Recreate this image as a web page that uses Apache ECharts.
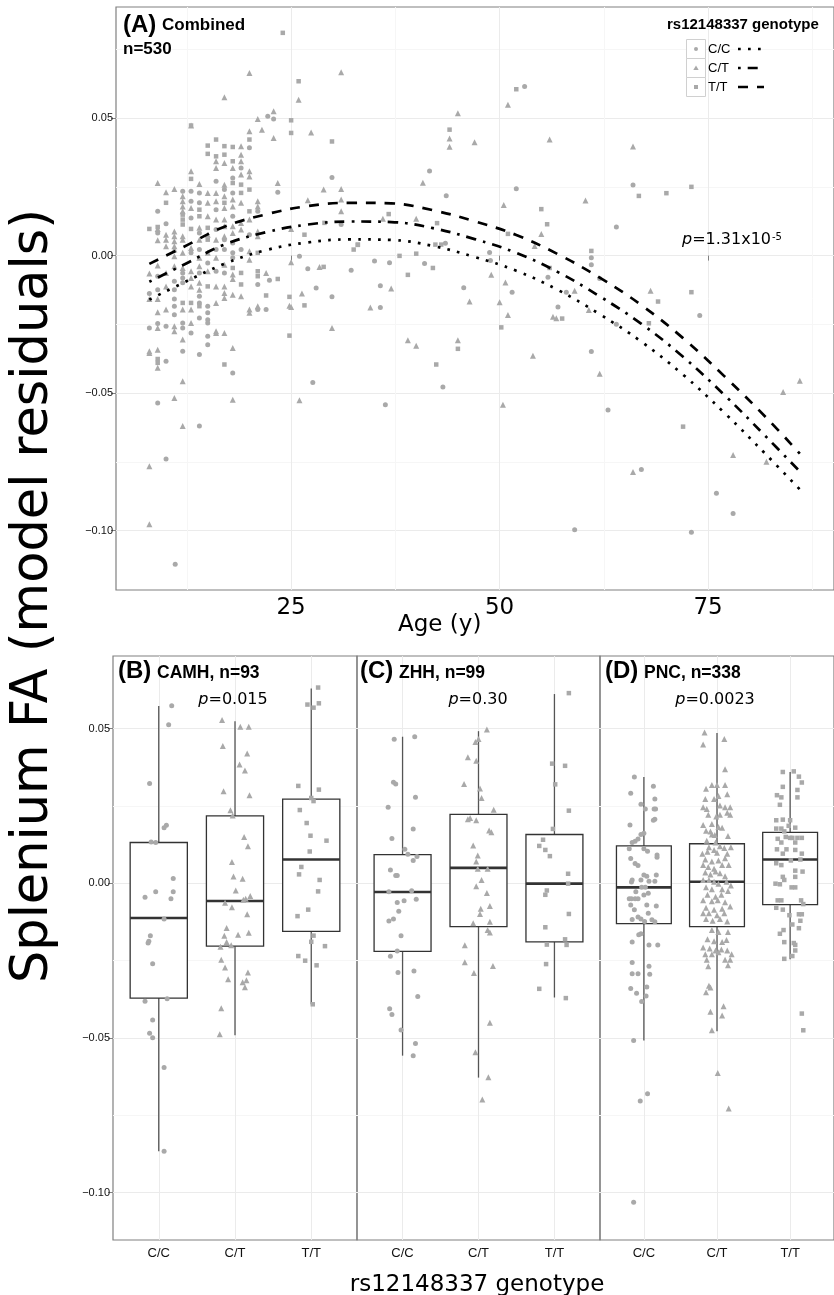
<!DOCTYPE html>
<html>
<head>
<meta charset="UTF-8">
<script src="https://cdn.jsdelivr.net/npm/echarts@6/dist/echarts.min.js"></script>
<style>html,body{margin:0;padding:0;background:#fff}</style>
</head>
<body>
<div id="main" style="width:834px;height:1295px"></div>
<script>
// ---- panel A: age vs residual, one array per genotype [age, residual]
var topCC = [[8,-0.0138],[8,-0.0263],[9,0.0161],[9,0.0082],[9,-0.0075],[9,-0.0124],[9,-0.0247],[9,-0.0536],
  [10,0.0116],[10,-0.0257],[10,-0.0384],[11,-0.0093],[11,-0.0124],[11,-0.0158],[11,-0.0184],[11,-0.0215],
  [12,0.0234],[12,-0.0063],[12,-0.0081],[12,-0.0099],[12,-0.0245],[12,-0.0263],[12,-0.0348],
  [13,0.0234],[13,0.0198],[13,0.0137],[13,0.001],[13,-0.0281],
  [14,0.0228],[14,0.0192],[14,0.0082],[14,0.0022],[14,-0.0063],[14,-0.0148],[14,-0.0172],[14,-0.0227],[14,-0.036],
  [15,-0.0027],[15,-0.0184],[15,-0.0208],[15,-0.0233],[15,-0.0245],[15,-0.0293],[15,-0.0324],
  [16,0.027],[16,0.0167],[16,0.0095],[16,0.0022],[16,-0.0057],[17,0.024],[17,0.0058],[17,0.0022],[17,-0.0063],
  [18,0.0282],[18,0.0228],[18,0.0143],[18,0.0046],[18,0.001],[18,-0.0008],[18,-0.0427],
  [19,0.0319],[19,0.0022],[20,0.0392],[20,0.0076],[21,0.0161],[21,-0.0105],[21,-0.0196],
  [22.2,0.0507],[22.4,-0.009],[22,-0.0196],[22.9,0.0497],[23.4,0.023],[26,-0.0002],[27,-0.0048],[27.6,-0.0461],
  [28,-0.0118],[29.9,0.0284],[29.9,-0.015],[31,0.0113],[32.2,-0.0053],
  [35,-0.002],[35.7,-0.011],[35.7,-0.0189],[36.3,-0.0542],[36.8,-0.0026],[41,-0.0029],[41.6,0.0308],[43.2,-0.0478],
  [43.5,0.0045],[43.6,0.0218],[45.7,-0.0117],[48.8,0.0011],[48.9,-0.0018],[51.5,-0.0133],[52,0.0243],[53,0.0615],
  [55.8,-0.0079],[57,-0.0187],[58,-0.0133],[59,-0.0997],[61,-0.0008],[61,-0.0033],[61,-0.0349],[62,-0.0083],
  [63,-0.0561],[64,0.0104],[64,-0.025],[66,0.0257],[67,-0.0778],[73,-0.1006],[74,-0.0218],[76,-0.0864],[78,-0.0938],
  [11.1,-0.1122],[10,-0.074],[14,-0.062]];
var topCT = [[8,-0.0065],[8,-0.0158],[8,-0.0348],[8,-0.0354],
  [9,0.0264],[9,0.0097],[9,0.0056],[9,-0.0036],[9,-0.0158],[9,-0.0206],[9,-0.0263],[9,-0.0342],[9,-0.0408],
  [10,0.023],[10,0.0076],[10,0.0058],[10,0.0034],[10,-0.0063],[10,-0.0112],[10,-0.0196],
  [11,0.0242],[11,0.0088],[11,0.007],[11,0.0052],[11,0.0034],[11,0.0022],[11,-0.0002],[11,-0.0039],[11,-0.0257],[11,-0.0275],[11,-0.0518],
  [12,0.0216],[12,0.0198],[12,0.0179],[12,0.0161],[12,0.007],[12,0.0058],[12,0.001],[12,-0.0045],[12,-0.0196],[12,-0.0305],[12,-0.0457],
  [13,0.0473],[13,0.0307],[13,0.0173],[13,0.0028],[13,-0.0057],[13,-0.0081],[13,-0.0112],[13,-0.0196],[13,-0.0245],
  [14,0.026],[14,0.0101],[14,0.0058],[14,-0.0008],[14,-0.0039],[14,-0.0099],[14,-0.0124],
  [15,0.0228],[15,0.0192],[15,0.0143],[15,0.0076],[15,0.001],[15,-0.0057],
  [16,0.0343],[16,0.0319],[16,0.0228],[16,0.0198],[16,0.0131],[16,0.0058],[16,-0.0008],[16,-0.0112],[16,-0.0172],[16,-0.0275],[16,-0.0281],
  [17,0.0576],[17,0.0337],[17,0.0258],[17,0.0216],[17,0.0173],[17,0.0131],[17,0.0107],[17,0.007],[17,-0.0033],[17,-0.0112],[17,-0.0136],[17,-0.0154],[17,-0.0281],
  [18,0.0319],[18,0.0204],[18,0.0179],[18,0.0107],[18,0.0082],[18,-0.0069],[18,-0.0085],[18,-0.0142],[18,-0.0336],[18,-0.0524],
  [19,0.0398],[19,0.0367],[19,0.0343],[19,0.0295],[19,0.0192],[19,0.0119],[19,0.0095],[19,-0.0148],
  [20,0.0664],[20,0.0452],[20,0.0307],[20,0.0288],[20,0.0131],[20,0.0016],[20,-0.0015],[20,-0.0196],[20,-0.0208],
  [21,0.0497],[21,0.0198],[21,0.0179],[21,0.0088],[21,0.007],[21,-0.0184],
  [21.5,0.0458],[22,-0.0063],[22.9,0.0525],[22.9,0.0428],[23.4,0.0264],[24.8,-0.0182],[25,0.0097],[25,-0.0024],
  [25,-0.0187],[25.9,0.0567],[26,-0.0526],[26.3,-0.0138],[27,0.0201],[27.4,0.0448],[28.4,-0.0041],[28.9,0.024],
  [29.9,-0.0263],[31,0.0667],[31,0.0242],[31,0.0204],[31,0.0161],
  [34.5,-0.0189],[36,0.0134],[37,-0.012],[39,-0.0308],[40,0.0134],[40,-0.0328],[40.8,0.0265],[45,0.0518],
  [45,-0.0308],[44,0.0426],[44,0.0396],[46.4,-0.0167],[47,0.0412],[49,-0.007],[50,-0.017],[50.4,-0.0542],
  [50.5,0.0184],[50.7,-0.0098],[51,0.0549],[51,-0.0216],[54,-0.0364],[54.2,0.0035],[55,0.0079],[56,0.0422],
  [56.4,-0.0222],[56.8,-0.0228],[59,-0.0128],[60.3,0.02],[60.7,-0.0198],[62,-0.043],[66,0.0397],[66,-0.0787],
  [68.1,-0.0128],[78,-0.0725],[82,-0.075],[84,-0.0496],[86,-0.0455],
  [8,-0.0977],[8,-0.0766],[12,-0.062]];
var topTT = [[8,0.0097],[9,0.0104],[9,-0.0376],[9,-0.039],[10,0.0192],
  [12,0.0149],[12,0.0131],[12,0.0113],[12,-0.0172],[13,0.0473],[13,0.0279],[13,0.0097],[13,-0.0172],
  [14,0.0167],[14,0.0143],[14,-0.0184],[15,0.04],[15,0.037],[15,0.0101],[15,0.0058],[15,-0.0112],
  [16,0.0422],[16,0.0361],[17,0.0398],[17,0.0367],[17,0.0192],[17,-0.0396],
  [18,0.0395],[18,0.0343],[18,0.0264],[18,-0.0045],[19,0.0258],[19,0.0228],[19,-0.0063],[19,-0.0105],
  [20,0.0422],[20,0.024],[20,0.0161],[21,0.001],[21,-0.0057],[21,-0.0075],
  [22,-0.0145],[23.4,-0.0085],[24,0.081],[24.8,-0.015],[24.8,-0.0291],[25,0.0492],[25,0.0446],[25.9,0.0634],
  [26.6,0.0076],[26.6,-0.0181],[28.9,-0.0041],[29,0.0119],[29.9,0.0415],[32.5,0.0022],[33,0.0039],
  [33,0.004],[36.7,0.0151],[38,-0.0001],[39,-0.007],[40,0.0007],[42,-0.0045],[42.4,-0.0396],[42.3,0.004],
  [42.5,0.0118],[43,0.004],[44,0.0458],[45,-0.0339],[50.2,-0.0261],[51,0.0079],[52,0.0605],[55,0.0169],
  [55.7,0.0114],[56,-0.0045],[57.5,-0.0229],[61,0.0017],[66.7,0.0217],[67.9,-0.0246],[69,-0.0167],
  [70,0.0227],[72,-0.0622],[73,0.025],[73,-0.0133]];

// fitted curves
var fitAges = [8,12,17,22,27,32,37,42,47,52,57,62,67,72,77,82,86];
var fitTT = [-0.003,0.003,0.0105,0.015,0.018,0.0192,0.019,0.0165,0.0125,0.0075,0.0005,-0.008,-0.018,-0.03,-0.044,-0.059,-0.072];
var fitCT = [-0.0095,-0.0035,0.004,0.0085,0.0113,0.0124,0.0122,0.01,0.006,0.001,-0.006,-0.0148,-0.0248,-0.0368,-0.0508,-0.066,-0.0785];
var fitCC = [-0.016,-0.01,-0.003,0.002,0.0048,0.0059,0.0057,0.0035,-0.0005,-0.0055,-0.0125,-0.0213,-0.0313,-0.0433,-0.0573,-0.0725,-0.085];

// ---- panels B-D: [jitter offset, residual]; box = [low, q1, median, q3, high]
var genotypes = ['C/C', 'C/T', 'T/T'];
var camhCC = [[0.17,0.0574],[0.13,0.0513],[-0.12,0.0323],[0.10,0.0188],[0.07,0.018],[-0.10,0.0134],[-0.04,0.0132],[0.19,0.0016],[-0.04,-0.0027],[0.19,-0.0027],[-0.18,-0.0045],[0.16,-0.005],[0.07,-0.0115],[-0.11,-0.0169],[-0.13,-0.0187],[-0.14,-0.0193],[-0.08,-0.026],[0.11,-0.0373],[-0.18,-0.0381],[-0.08,-0.0442],[-0.12,-0.0485],[-0.08,-0.0499],[0.07,-0.0595],[0.07,-0.0866]];
var camhCT = [[-0.17,0.0528],[0.07,0.0506],[0.18,0.0506],[-0.16,0.0444],[0.16,0.042],[0.06,0.0384],[0.13,0.0365],[-0.15,0.0298],[0.19,0.0285],[-0.06,0.0236],[-0.03,0.0219],[0.12,0.015],[0.17,0.012],[-0.04,0.0069],[-0.02,0.0022],[0.10,0.0015],[0.01,-0.0023],[0.20,-0.0041],[0.14,-0.005],[0.11,-0.0053],[-0.13,-0.0063],[-0.04,-0.0077],[0.16,-0.01],[-0.11,-0.0144],[-0.14,-0.0169],[0.04,-0.0166],[0.18,-0.016],[-0.11,-0.019],[-0.19,-0.0205],[-0.05,-0.02],[-0.18,-0.0247],[-0.13,-0.0272],[0.17,-0.0288],[-0.09,-0.031],[0.10,-0.032],[0.15,-0.0313],[0.13,-0.0336],[-0.18,-0.0404],[-0.20,-0.0488]];
var camhTT = [[0.09,0.0633],[-0.05,0.0578],[0.10,0.0582],[0.03,0.0568],[-0.17,0.0315],[0.10,0.0303],[0.00,0.0276],[0.03,0.0266],[-0.15,0.0237],[-0.06,0.0195],[-0.01,0.0154],[0.20,0.0138],[-0.02,0.0103],[-0.13,0.0053],[-0.16,0.0029],[0.11,0.0011],[0.09,-0.0026],[-0.04,-0.0085],[-0.18,-0.0106],[0.03,-0.0169],[0.00,-0.0189],[0.18,-0.0203],[-0.17,-0.0235],[-0.08,-0.025],[0.07,-0.0265],[0.02,-0.0391]];
var camhBox = [[-0.0866,-0.0371,-0.0112,0.0132,0.0573],[-0.0491,-0.0203,-0.0057,0.0218,0.0524],[-0.0391,-0.0155,0.0077,0.0272,0.063]];

var zhhCC = [[-0.11,0.0466],[0.16,0.0474],[-0.12,0.0327],[-0.09,0.0321],[0.17,0.0278],[-0.19,0.0246],[0.14,0.0176],[-0.14,0.0145],[0.03,0.011],[0.07,0.0094],[0.19,0.0087],[0.14,0.0074],[-0.16,0.0043],[-0.07,0.0025],[-0.09,0.0025],[-0.18,-0.0027],[0.12,-0.0024],[0.02,-0.0056],[-0.07,-0.0062],[0.18,-0.0051],[-0.05,-0.009],[-0.12,-0.0115],[-0.18,-0.0122],[-0.02,-0.0169],[-0.07,-0.0219],[-0.16,-0.0236],[-0.06,-0.0288],[0.15,-0.0283],[0.20,-0.0366],[-0.17,-0.0405],[-0.14,-0.0424],[-0.02,-0.0474],[0.17,-0.0518],[0.14,-0.0557]];
var zhhCT = [[0.11,0.0497],[0.00,0.0467],[-0.04,0.0457],[-0.14,0.0408],[-0.03,0.0396],[-0.19,0.0321],[0.02,0.0307],[0.04,0.0276],[0.20,0.0238],[-0.14,0.0207],[-0.11,0.0211],[-0.03,0.0204],[0.14,0.0171],[0.17,0.0165],[-0.07,0.0122],[-0.01,0.009],[-0.03,0.0071],[0.12,0.0047],[-0.01,0.0047],[0.04,0.0011],[-0.03,-0.0009],[0.11,-0.0031],[0.03,-0.0082],[0.15,-0.0073],[0.02,-0.0099],[-0.07,-0.0129],[0.15,-0.0124],[0.12,-0.0151],[0.15,-0.0159],[-0.18,-0.02],[-0.18,-0.0255],[0.19,-0.0267],[-0.06,-0.029],[0.15,-0.0451],[-0.04,-0.0546],[0.13,-0.0627],[0.05,-0.0699]];
var zhhTT = [[0.19,0.0615],[-0.03,0.0387],[0.14,0.038],[0.01,0.032],[0.19,0.0235],[-0.02,0.0176],[-0.15,0.0141],[-0.20,0.0121],[-0.12,0.0108],[-0.06,0.0088],[0.18,0.0031],[0.18,-0.0001],[-0.10,-0.0023],[-0.12,-0.0037],[0.19,-0.0099],[-0.12,-0.0142],[-0.10,-0.0198],[0.14,-0.0181],[0.16,-0.0199],[-0.11,-0.0261],[-0.20,-0.0341],[0.15,-0.0371]];
var zhhBox = [[-0.0557,-0.022,-0.0028,0.0093,0.0474],[-0.0628,-0.014,0.005,0.0223,0.0492],[-0.0369,-0.0189,-0.0001,0.0158,0.0612]];

var pncCC = [[-0.13,0.0344],[0.13,0.0314],[-0.18,0.0291],[0.15,0.0273],[-0.04,0.0256],[0.14,0.024],[0.02,0.024],[0.16,0.024],[0.15,0.0207],[0.13,0.0204],[-0.19,0.0189],[0,0.0162],[-0.04,0.0158],[-0.08,0.0143],[-0.12,0.0136],[-0.16,0.0132],[-0.20,0.0112],[0,0.0112],[0.05,0.0104],[0.18,0.0092],[0.18,0.0084],[-0.18,0.008],[-0.12,0.0064],[-0.08,0.0058],[0,0.0027],[0.04,0.0023],[0.17,0.0027],[-0.16,0.0011],[-0.04,0.0011],[0.07,0.0007],[0.15,0.0007],[-0.17,0.0004],[-0.03,-0.0013],[0.02,-0.0013],[-0.11,-0.0027],[0.06,-0.0032],[0,-0.0038],[-0.08,-0.005],[-0.20,-0.005],[-0.17,-0.005],[-0.12,-0.005],[0.17,-0.0073],[0.04,-0.007],[-0.18,-0.007],[-0.13,-0.0085],[0.06,-0.0097],[-0.08,-0.0109],[-0.04,-0.0115],[0.15,-0.0124],[-0.16,-0.0117],[0.01,-0.0123],[0.11,-0.0118],[-0.04,-0.0163],[-0.07,-0.0166],[0.07,-0.0199],[0.19,-0.0199],[-0.16,-0.019],[-0.16,-0.0256],[0.07,-0.0268],[-0.08,-0.0292],[-0.16,-0.0292],[0.08,-0.0294],[0.04,-0.0335],[-0.18,-0.034],[-0.10,-0.0355],[0.03,-0.0364],[-0.03,-0.0382],[-0.14,-0.0508],[-0.14,-0.1031],[-0.05,-0.0704],[0.05,-0.068]];
var pncCT = [[-0.17,0.0488],[0.10,0.0467],[-0.19,0.0449],[0.11,0.0369],[-0.15,0.0306],[-0.07,0.0318],[0,0.0318],[0.11,0.0318],[0.14,0.0288],[-0.16,0.0273],[-0.04,0.0273],[0.02,0.0282],[-0.19,0.0246],[-0.14,0.024],[0.04,0.0252],[0.11,0.0246],[0.18,0.0246],[0.14,0.0228],[-0.12,0.0222],[-0.01,0.0216],[0.04,0.0222],[0.18,0.0222],[-0.19,0.0189],[-0.07,0.0192],[0.02,0.0182],[-0.15,0.017],[-0.09,0.0168],[0.07,0.018],[-0.07,0.0158],[-0.03,0.0156],[0.15,0.0153],[-0.14,0.0138],[-0.11,0.0117],[-0.02,0.0132],[0.04,0.012],[0.10,0.0114],[0.19,0.0117],[-0.20,0.0096],[-0.13,0.0102],[-0.04,0.0108],[0,0.0099],[0.14,0.0096],[-0.16,0.0077],[-0.07,0.0071],[0.02,0.0074],[0.11,0.0081],[-0.19,0.0059],[-0.12,0.0053],[-0.04,0.0047],[0.07,0.0059],[0.16,0.0059],[-0.16,0.0035],[-0.09,0.0029],[-0.02,0.0038],[0.04,0.0033],[0.11,0.0023],[-0.19,0.0011],[-0.11,0.0011],[-0.04,0.0005],[0.02,-0.0001],[0.13,0.0005],[0.19,-0.0007],[-0.15,-0.0013],[-0.07,-0.0019],[0.07,-0.0019],[0.15,-0.0025],[-0.13,-0.0037],[-0.02,-0.0043],[0.06,-0.0037],[-0.19,-0.0055],[-0.07,-0.0058],[0.01,-0.0055],[0.11,-0.0061],[-0.15,-0.0079],[-0.04,-0.0085],[0.07,-0.0082],[0.18,-0.0075],[-0.19,-0.0097],[-0.11,-0.0097],[0,-0.0103],[0.10,-0.0097],[-0.15,-0.0115],[-0.06,-0.0121],[0.04,-0.0115],[0.14,-0.0123],[-0.07,-0.0151],[0.02,-0.0157],[0.15,-0.0157],[-0.13,-0.0181],[-0.04,-0.0187],[0.07,-0.019],[0.13,-0.0183],[-0.19,-0.0207],[-0.10,-0.0211],[-0.02,-0.0217],[0.06,-0.0214],[0.14,-0.0217],[0.20,-0.0229],[-0.16,-0.0229],[-0.07,-0.0229],[0.02,-0.0223],[-0.14,-0.0247],[0.11,-0.0247],[0.18,-0.0247],[-0.12,-0.0268],[0.15,-0.0265],[-0.11,-0.0331],[-0.09,-0.0337],[-0.15,-0.0352],[0.09,-0.0397],[0.07,-0.0427],[-0.09,-0.0415],[-0.07,-0.0475],[0.01,-0.0613],[0.16,-0.0728]];
var pncTT = [[-0.10,0.036],[0.05,0.0362],[0.12,0.0345],[0.16,0.0326],[-0.10,0.0312],[0.10,0.0302],[-0.18,0.0285],[-0.12,0.0278],[0.10,0.0278],[-0.14,0.0254],[-0.19,0.0204],[-0.10,0.0206],[0,0.0204],[-0.02,0.0186],[0.07,0.018],[-0.19,0.0177],[-0.12,0.0177],[-0.08,0.0168],[0.03,0.0147],[0.10,0.0147],[0.16,0.0147],[-0.17,0.0144],[-0.06,0.015],[0,0.0147],[-0.12,0.0132],[0.07,0.0132],[-0.18,0.011],[-0.05,0.011],[0.07,0.0108],[-0.10,0.0096],[0.16,0.0096],[0.14,0.0077],[0.01,0.0074],[-0.19,0.0065],[-0.12,0.0059],[0.07,0.0041],[0.17,0.0038],[-0.10,0.0021],[0.07,0.0021],[-0.20,-0.0001],[-0.14,-0.0003],[-0.08,0.0011],[0.02,-0.0013],[0.07,-0.0013],[-0.17,-0.0055],[-0.12,-0.0055],[0.15,-0.0055],[0.18,-0.0067],[-0.19,-0.0079],[-0.10,-0.0085],[-0.01,-0.0103],[0.12,-0.01],[0.16,-0.01],[0.14,-0.0121],[0.03,-0.0133],[-0.09,-0.0151],[-0.14,-0.0163],[0.12,-0.0145],[0.05,-0.0193],[-0.08,-0.019],[0.07,-0.0199],[0.07,-0.0217],[-0.08,-0.0244],[0.03,-0.0235],[0.16,-0.0421],[0.18,-0.0475]];
var pncBox = [[-0.0508,-0.013,-0.0013,0.0121,0.0344],[-0.0478,-0.014,0.0005,0.0128,0.0486],[-0.0245,-0.0069,0.0077,0.0165,0.036]];

var ageTicks = [25, 50, 75];
var ageMinor = [12.5, 37.5, 62.5, 87.5];
var resTicks = [-0.10, -0.05, 0, 0.05];
var resMinor = [-0.075, -0.025, 0.025, 0.075];

var ptColor = '#a9a9a9';
var frame = '#808080';
var major = '#ebebeb', minor = '#f6f6f6';

function fmtRes(v) {
  return (v < 0 ? '\u2212' : '') + Math.abs(v).toFixed(2);
}
function valAxis(grid, min, max, ticks, labelOpt, showLab) {
  return {
    type: 'value', gridIndex: grid, min: min, max: max,
    axisLine: { show: false },
    axisTick: { show: showLab, customValues: ticks, length: 5, lineStyle: { color: frame } },
    axisLabel: Object.assign({ show: showLab, customValues: ticks, color: '#111' }, labelOpt),
    splitLine: { show: true, lineStyle: { color: major, width: 1 } }
  };
}
function minorAxis(grid, min, max, ticks) {
  return {
    type: 'value', gridIndex: grid, min: min, max: max,
    axisLine: { show: false }, axisLabel: { show: false, customValues: ticks },
    axisTick: { show: false, customValues: ticks },
    splitLine: { show: true, lineStyle: { color: minor, width: 1 } }
  };
}

var grids = [{ left: 116, top: 7, width: 728, height: 583 }];
var panelLeft = [113, 357, 600], panelWidth = [244, 243, 244];
for (var i = 0; i < 3; i++) grids.push({ left: panelLeft[i], top: 656, width: panelWidth[i], height: 584 });
grids.forEach(function (g) { g.show = true; g.borderColor = frame; g.borderWidth = 1.2; g.backgroundColor = 'transparent'; });

var yLab = { fontSize: 11, fontFamily: 'Liberation Sans', margin: 3, formatter: fmtRes };
var xAxes = [
  valAxis(0, 4.0, 90.1, ageTicks, { fontSize: 23, fontFamily: 'DejaVu Sans', margin: 7, color: '#000' }, true),
  minorAxis(0, 4.0, 90.1, ageMinor)
];
var yAxes = [
  valAxis(0, -0.1216, 0.0904, resTicks, yLab, true),
  minorAxis(0, -0.1216, 0.0904, resMinor)
];
for (var p = 0; p < 3; p++) {
  xAxes.push(valAxis(p + 1, 0.4, 3.6, [1, 2, 3], {
    fontSize: 13, fontFamily: 'Liberation Sans', margin: 7, color: '#111',
    formatter: function (v) { return genotypes[Math.round(v) - 1]; }
  }, true));
  yAxes.push(valAxis(p + 1, -0.1153, 0.0735, resTicks, yLab, p === 0));
}
for (var p2 = 0; p2 < 3; p2++) yAxes.push(minorAxis(p2 + 1, -0.1153, 0.0735, resMinor));

function jit(arr, cat) { return arr.map(function (d) { return [cat + d[0], d[1]]; }); }
function fitLine(vals) { return fitAges.map(function (a, i) { return [a, vals[i]]; }); }

function scatter(name, data, xi, yi, sym, size) {
  return { name: name, type: 'scatter', xAxisIndex: xi, yAxisIndex: yi, data: data, symbol: sym, symbolSize: size,
    itemStyle: { color: ptColor, opacity: 1 }, silent: true, z: 3 };
}
function curve(vals, dash) {
  return { type: 'line', xAxisIndex: 0, yAxisIndex: 0, data: fitLine(vals), smooth: 0.4, showSymbol: false,
    lineStyle: { color: '#000', width: 2.7, type: dash, cap: 'butt' }, silent: true, z: 4 };
}
function renderBox(params, api) {
  var x = api.value(0);
  var lo = api.coord([x, api.value(1)]), q1 = api.coord([x, api.value(2)]);
  var md = api.coord([x, api.value(3)]), q3 = api.coord([x, api.value(4)]);
  var hi = api.coord([x, api.value(5)]);
  var half = api.size([0.75, 0])[0] / 2;
  return { type: 'group', children: [
    { type: 'line', shape: { x1: lo[0], y1: lo[1], x2: q1[0], y2: q1[1] }, style: { stroke: '#555', lineWidth: 1.3 } },
    { type: 'line', shape: { x1: q3[0], y1: q3[1], x2: hi[0], y2: hi[1] }, style: { stroke: '#555', lineWidth: 1.3 } },
    { type: 'rect', shape: { x: q3[0] - half, y: q3[1], width: half * 2, height: q1[1] - q3[1] },
      style: { fill: '#fff', stroke: '#333', lineWidth: 1.3 } },
    { type: 'line', shape: { x1: md[0] - half, y1: md[1], x2: md[0] + half, y2: md[1] }, style: { stroke: '#333', lineWidth: 2.6 } }
  ] };
}
function boxSeries(box, xi, yi) {
  return { type: 'custom', xAxisIndex: xi, yAxisIndex: yi, renderItem: renderBox, silent: true, z: 2,
    encode: { x: 0, y: [1, 2, 3, 4, 5] },
    data: box.map(function (b, i) { return [i + 1].concat(b); }) };
}

var series = [
  scatter('C/C', topCC, 0, 0, 'circle', 5),
  scatter('C/T', topCT, 0, 0, 'triangle', 6),
  scatter('T/T', topTT, 0, 0, 'rect', 4.5),
  curve(fitTT, [10, 9]),
  curve(fitCT, [2.7, 7, 10, 7]),
  curve(fitCC, [2.7, 7.3])
];
var panels = [[camhCC, camhCT, camhTT, camhBox], [zhhCC, zhhCT, zhhTT, zhhBox], [pncCC, pncCT, pncTT, pncBox]];
panels.forEach(function (pn, k) {
  var xi = k + 2, yi = k + 2;
  series.push(boxSeries(pn[3], xi, yi));
  series.push(scatter('C/C', jit(pn[0], 1), xi, yi, 'circle', 5));
  series.push(scatter('C/T', jit(pn[1], 2), xi, yi, 'triangle', 6));
  series.push(scatter('T/T', jit(pn[2], 3), xi, yi, 'rect', 4.5));
});

function txt(x, y, s, size, extra) {
  var st = Object.assign({ text: s, fontSize: size, fontFamily: 'Liberation Sans', fill: '#000',
    align: 'left', verticalAlign: 'middle' }, extra || {});
  st.textAlign = st.align; st.textVerticalAlign = st.verticalAlign;
  return { type: 'text', x: x, y: y, z: 10, style: st };
}
var bold = { fontWeight: 'bold' };
var verd = { fontFamily: 'DejaVu Sans' };
var pRich = { i: { fontStyle: 'italic', fontFamily: 'DejaVu Sans', fontSize: 16 },
  s: { fontSize: 10, fontFamily: 'DejaVu Sans', verticalAlign: 'top', padding: [0, 0, 0, 1] } };

var graphics = [
  txt(123, 25, '(A)', 24, bold), txt(162, 25, 'Combined', 17, bold), txt(123, 49, 'n=530', 17, bold),
  txt(667, 25, 'rs12148337 genotype', 15, bold),
  txt(682, 240, '{i|p}=1.31x10{s|-5}', 16, { fontFamily: 'DejaVu Sans', rich: pRich }),
  txt(118, 671, '(B)', 24, bold), txt(157, 673, 'CAMH, n=93', 17.5, bold),
  txt(360, 671, '(C)', 24, bold), txt(399, 673, 'ZHH, n=99', 17.5, bold),
  txt(605, 671, '(D)', 24, bold), txt(644, 673, 'PNC, n=338', 17.5, bold),
  txt(233, 700, '{i|p}=0.015', 16, { fontFamily: 'DejaVu Sans', align: 'center', rich: pRich }),
  txt(478, 700, '{i|p}=0.30', 16, { fontFamily: 'DejaVu Sans', align: 'center', rich: pRich }),
  txt(715, 700, '{i|p}=0.0023', 16, { fontFamily: 'DejaVu Sans', align: 'center', rich: pRich }),
  txt(398, 625, 'Age (y)', 23, verd),
  txt(477, 1285, 'rs12148337 genotype', 23, { fontFamily: 'DejaVu Sans', align: 'center' }),
  { type: 'text', x: 34, y: 596, rotation: Math.PI / 2, z: 10,
    style: { text: 'Splenium FA (model residuals)', fontSize: 51, fontFamily: 'DejaVu Sans', fill: '#000',
      align: 'center', verticalAlign: 'middle', textAlign: 'center', textVerticalAlign: 'middle' } }
];
// legend keys
var keyDash = [[2.7, 7.3], [2.7, 7, 10, 7], [10, 9]];
for (var r = 0; r < 3; r++) {
  var cy = 49 + r * 19;
  graphics.push({ type: 'rect', shape: { x: 686.5, y: cy - 9.5, width: 19, height: 19 },
    style: { fill: '#fff', stroke: '#d0d0d0', lineWidth: 1 }, z: 10 });
  if (r === 0) graphics.push({ type: 'circle', shape: { cx: 696, cy: cy, r: 2 }, style: { fill: ptColor }, z: 11 });
  if (r === 1) graphics.push({ type: 'polygon', shape: { points: [[696, cy - 2.5], [698.7, cy + 2], [693.3, cy + 2]] }, style: { fill: ptColor }, z: 11 });
  if (r === 2) graphics.push({ type: 'rect', shape: { x: 694, y: cy - 2, width: 4, height: 4 }, style: { fill: ptColor }, z: 11 });
  graphics.push(txt(708, cy, genotypes[r], 13));
  graphics.push({ type: 'line', shape: { x1: 738, y1: cy, x2: 764, y2: cy },
    style: { stroke: '#000', lineWidth: 2.7, lineDash: keyDash[r] }, z: 11 });
}

var chart = echarts.init(document.getElementById('main'));
chart.setOption({
  animation: false,
  backgroundColor: '#fff',
  grid: grids,
  xAxis: xAxes,
  yAxis: yAxes,
  series: series,
  graphic: graphics
});
</script>
</body>
</html>
